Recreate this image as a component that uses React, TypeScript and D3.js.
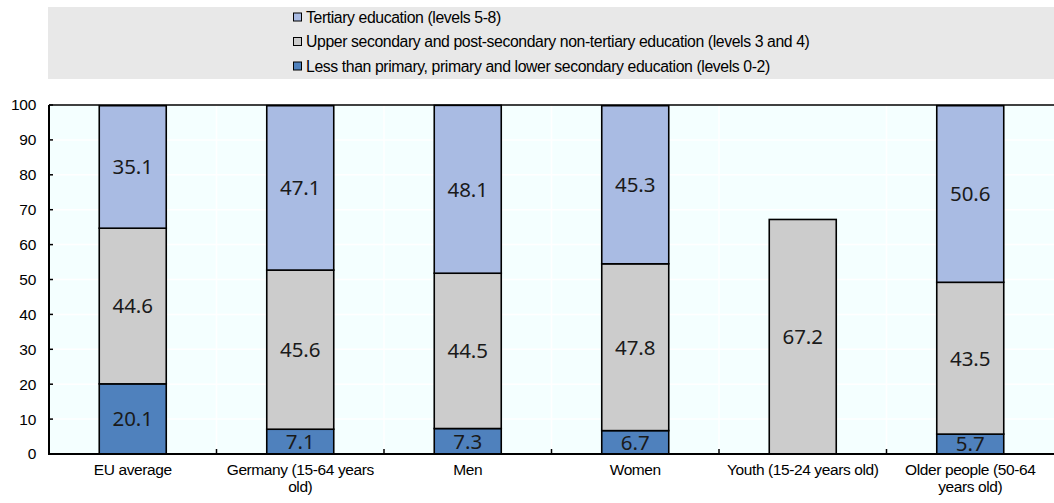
import React, { useEffect, useRef } from "react";
import * as d3 from "d3";

const categories = [
  "EU average",
  "Germany (15-64 years old)",
  "Men",
  "Women",
  "Youth (15-24 years old)",
  "Older people (50-64 years old)",
];
const lowerEdu = [20.1, 7.1, 7.3, 6.7, null, 5.7];
const upperSecEdu = [44.6, 45.6, 44.5, 47.8, 67.2, 43.5];
const tertiaryEdu = [35.1, 47.1, 48.1, 45.3, null, 50.6];
const yTicks = [0, 10, 20, 30, 40, 50, 60, 70, 80, 90, 100];

const seriesNames = [
  "Tertiary education (levels 5-8)",
  "Upper secondary and post-secondary non-tertiary education (levels 3 and 4)",
  "Less than primary, primary and lower secondary education (levels 0-2)",
];
const seriesColors = ["#A9BBE3", "#CCCCCC", "#4F81BD"];

const W = 1054;
const H = 503;
const M = { left: 49, right: 0, top: 105, bottom: 49 };
const AXIS_FONT = "'Liberation Sans', Arial, sans-serif";

export default function App() {
  const ref = useRef<SVGSVGElement>(null);

  useEffect(() => {
    const svg = d3.select(ref.current);
    svg.selectAll("*").remove();

    const x = d3
      .scaleBand()
      .domain(categories)
      .range([M.left, W - M.right])
      .paddingInner(0.6)
      .paddingOuter(0.3);
    const y = d3.scaleLinear().domain([0, 100]).range([H - M.bottom, M.top]);
    const step = x.step();
    const catStart = (c: string) => (x(c) as number) - step * x.paddingInner() / 2;

    // Legend background
    const leg = svg.append("g");
    leg
      .append("rect")
      .attr("x", 48)
      .attr("y", 7)
      .attr("width", W - 48)
      .attr("height", 72)
      .attr("fill", "#E8E8E8");
    const legItems = leg
      .selectAll("g.item")
      .data(seriesNames)
      .join("g")
      .attr("transform", (_d, i) => `translate(293, ${17 + i * 24.5})`);
    legItems
      .append("rect")
      .attr("x", 0.5)
      .attr("y", -4)
      .attr("width", 8)
      .attr("height", 8)
      .attr("fill", (_d, i) => seriesColors[i])
      .attr("stroke", "#000")
      .attr("stroke-width", 1);
    legItems
      .append("text")
      .attr("x", 13)
      .attr("y", 5.5)
      .attr("font-family", AXIS_FONT)
      .attr("font-size", 15.8)
      .attr("letter-spacing", -0.4)
      .attr("fill", "#000")
      .text((d) => d);

    // plot background
    svg
      .append("rect")
      .attr("x", M.left)
      .attr("y", M.top)
      .attr("width", W - M.right - M.left)
      .attr("height", y(0) - y(100))
      .attr("fill", "#F4FFFF");

    // gridlines
    svg
      .append("g")
      .selectAll("line")
      .data(yTicks)
      .join("line")
      .attr("x1", M.left)
      .attr("x2", W - M.right)
      .attr("y1", (d) => y(d))
      .attr("y2", (d) => y(d))
      .attr("stroke", "#FFFFFF")
      .attr("stroke-width", 1.5);
    const boundaries = categories.slice(1);
    svg
      .append("g")
      .selectAll("line")
      .data(boundaries)
      .join("line")
      .attr("x1", (d) => catStart(d))
      .attr("x2", (d) => catStart(d))
      .attr("y1", y(100))
      .attr("y2", y(0))
      .attr("stroke", "#FFFFFF")
      .attr("stroke-width", 1.5);

    // stacked bars
    const stackData = categories.map((c, i) => ({
      cat: c,
      lower: lowerEdu[i],
      upper: upperSecEdu[i],
      tertiary: tertiaryEdu[i],
    }));
    const keys = ["lower", "upper", "tertiary"];
    const keyColors: Record<string, string> = {
      lower: seriesColors[2],
      upper: seriesColors[1],
      tertiary: seriesColors[0],
    };
    const stacked = d3
      .stack<any>()
      .keys(keys)
      .value((d, k) => (d[k] == null ? 0 : d[k]))(stackData);

    const barsG = svg.append("g");
    const labelsG = svg.append("g");
    stacked.forEach((layer) => {
      const k = layer.key;
      const segs = layer.filter((s) => s.data[k] != null);
      barsG
        .append("g")
        .selectAll("rect")
        .data(segs)
        .join("rect")
        .attr("x", (s) => x(s.data.cat) as number)
        .attr("width", x.bandwidth())
        .attr("y", (s) => y(s[1]))
        .attr("height", (s) => y(s[0]) - y(s[1]))
        .attr("fill", keyColors[k])
        .attr("stroke", "#000")
        .attr("stroke-width", 1.6);
      labelsG
        .append("g")
        .selectAll("text")
        .data(segs)
        .join("text")
        .attr("x", (s) => (x(s.data.cat) as number) + x.bandwidth() / 2)
        .attr("y", (s) => (y(s[0]) + y(s[1])) / 2)
        .attr("dy", "0.36em")
        .attr("text-anchor", "middle")
        .attr("font-family", "'Noto Sans', sans-serif")
        .attr("font-size", 20.5)
        .attr("fill", "#1a1a1a")
        .text((s) => d3.format(".1f")(s.data[k]));
    });

    // axes lines
    svg
      .append("line")
      .attr("x1", M.left)
      .attr("x2", W - M.right)
      .attr("y1", y(0))
      .attr("y2", y(0))
      .attr("stroke", "#000")
      .attr("stroke-width", 2);
    svg
      .append("line")
      .attr("x1", M.left)
      .attr("x2", W - M.right)
      .attr("y1", y(100))
      .attr("y2", y(100))
      .attr("stroke", "#000")
      .attr("stroke-width", 1.5);
    svg
      .append("line")
      .attr("x1", M.left)
      .attr("x2", M.left)
      .attr("y1", y(100))
      .attr("y2", y(0) + 1)
      .attr("stroke", "#000")
      .attr("stroke-width", 2);

    // y ticks (inward) and labels
    const yAxisG = svg.append("g");
    yAxisG
      .selectAll("line")
      .data(yTicks)
      .join("line")
      .attr("x1", M.left)
      .attr("x2", M.left + 4)
      .attr("y1", (d) => y(d))
      .attr("y2", (d) => y(d))
      .attr("stroke", "#000")
      .attr("stroke-width", 1.5);
    yAxisG
      .selectAll("text")
      .data(yTicks)
      .join("text")
      .attr("x", 36)
      .attr("y", (d) => y(d))
      .attr("dy", "0.35em")
      .attr("text-anchor", "end")
      .attr("font-family", AXIS_FONT)
      .attr("font-size", 15.5)
      .attr("letter-spacing", -0.3)
      .attr("fill", "#000")
      .text((d) => String(d));

    // x ticks (inward) at boundaries
    svg
      .append("g")
      .selectAll("line")
      .data(boundaries)
      .join("line")
      .attr("x1", (d) => catStart(d))
      .attr("x2", (d) => catStart(d))
      .attr("y1", y(0))
      .attr("y2", y(0) - 5)
      .attr("stroke", "#000")
      .attr("stroke-width", 1.5);

    // x labels with wrapping
    const maxW = 155;
    const xl = svg
      .append("g")
      .selectAll("text")
      .data(categories)
      .join("text")
      .attr("x", (d) => (x(d) as number) + x.bandwidth() / 2)
      .attr("y", y(0) + 21)
      .attr("text-anchor", "middle")
      .attr("font-family", AXIS_FONT)
      .attr("font-size", 15.5)
      .attr("letter-spacing", -0.4)
      .attr("fill", "#000");
    xl.each(function (d) {
      const t = d3.select(this);
      const cx = t.attr("x");
      const words = d.split(" ");
      let line: string[] = [];
      let tspan = t.append("tspan").attr("x", cx).attr("dy", 0);
      for (const w of words) {
        line.push(w);
        tspan.text(line.join(" "));
        if ((tspan.node() as SVGTSpanElement).getComputedTextLength() > maxW && line.length > 1) {
          line.pop();
          tspan.text(line.join(" "));
          line = [w];
          tspan = t.append("tspan").attr("x", cx).attr("dy", 17).text(w);
        }
      }
    });
  }, []);

  return (
    <svg
      ref={ref}
      width={W}
      height={H}
      style={{ position: "absolute", left: 0, top: 0, background: "#fff" }}
    />
  );
}
